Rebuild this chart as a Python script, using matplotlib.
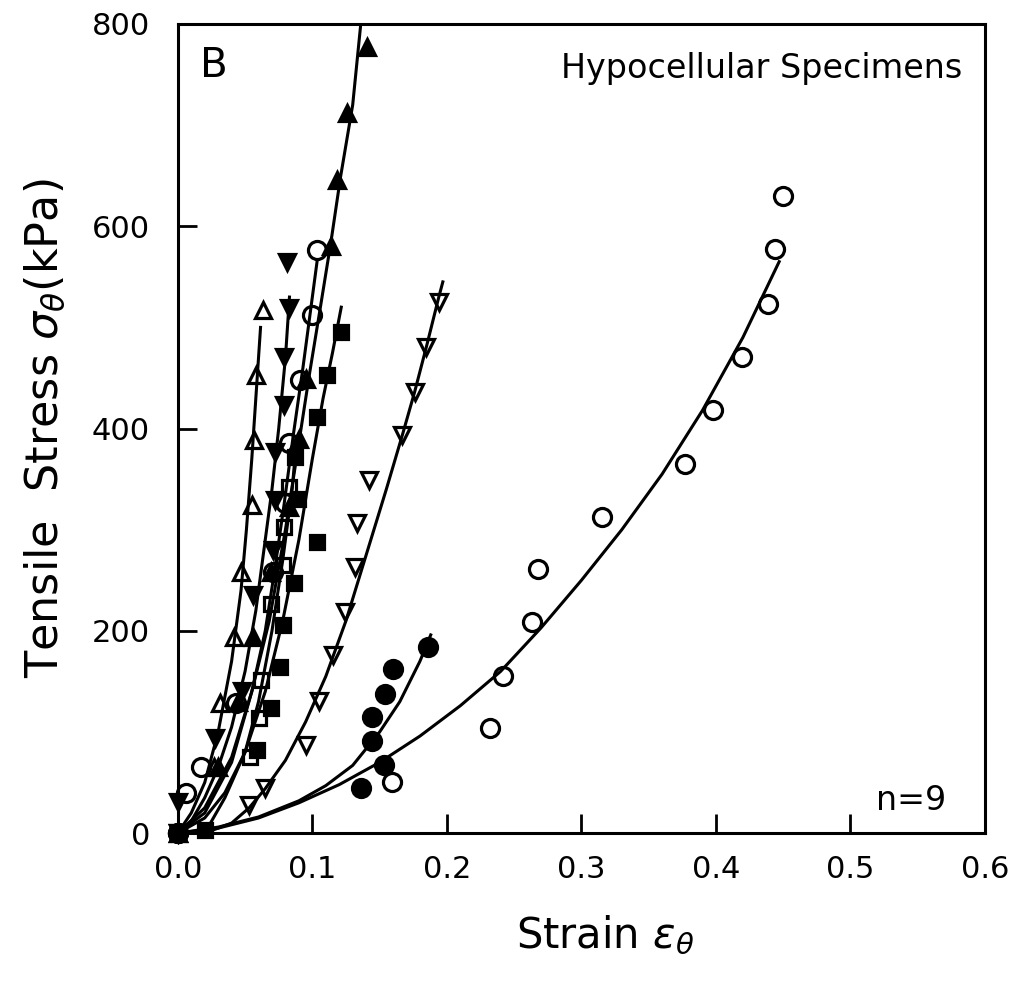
import numpy as np
import matplotlib
matplotlib.use('Agg')
import matplotlib.pyplot as plt

plt.rcParams['font.family'] = ['DejaVu Sans']
plt.rcParams['mathtext.fontset'] = 'dejavusans'

# ---- measured points (strain, stress kPa), one pair of lists per specimen ----

# big open circles (slowest specimen)
oc1_x = [0.0, 0.159, 0.232, 0.242, 0.263, 0.268, 0.315, 0.377, 0.398, 0.419, 0.439, 0.444, 0.450]
oc1_y = [0, 51, 104, 155, 209, 261, 313, 365, 418, 471, 523, 578, 630]
oc1_fx = [0.0, 0.03, 0.06, 0.09, 0.12, 0.15, 0.18, 0.21, 0.24, 0.27, 0.30, 0.33, 0.36, 0.39, 0.42, 0.447]
oc1_fy = [0, 5, 15, 30, 48, 70, 96, 126, 160, 203, 250, 300, 355, 418, 490, 565]

# filled circles
fc_x = [0.0, 0.136, 0.153, 0.144, 0.144, 0.154, 0.160, 0.186]
fc_y = [0, 45, 67, 91, 115, 138, 162, 184]
fc_fx = [0.0, 0.03, 0.06, 0.09, 0.11, 0.13, 0.15, 0.165, 0.18, 0.188]
fc_fy = [0, 6, 16, 32, 47, 67, 100, 130, 170, 196]

# open down triangles
od_x = [0.0, 0.053, 0.065, 0.095, 0.105, 0.115, 0.124, 0.132, 0.133, 0.142, 0.167, 0.176, 0.1845, 0.194]
od_y = [0, 28, 45, 87, 131, 176, 219, 263, 307, 349, 394, 436, 481, 525]
od_fx = [0.02, 0.04, 0.053, 0.065, 0.08, 0.095, 0.11, 0.125, 0.14, 0.155, 0.167, 0.176, 0.185, 0.194, 0.197]
od_fy = [0, 10, 25, 44, 72, 110, 155, 210, 275, 340, 394, 436, 482, 530, 545]

# filled up triangles
fu_x = [0.0, 0.03, 0.045, 0.0556, 0.069, 0.083, 0.090, 0.095, 0.114, 0.1185, 0.126, 0.1407]
fu_y = [0, 65, 130, 194, 258, 322, 390, 449, 580, 646, 712, 777]
fu_fx = [0.0, 0.02, 0.04, 0.055, 0.068, 0.08, 0.09, 0.098, 0.106, 0.114, 0.121, 0.13, 0.136]
fu_fy = [0, 20, 70, 140, 210, 300, 386, 455, 520, 586, 649, 720, 800]

# open up triangles
ou_x = [0.0, 0.027, 0.031, 0.042, 0.047, 0.055, 0.057, 0.058, 0.063]
ou_y = [0, 65, 129, 194, 258, 324, 389, 453, 517]
ou_fx = [0.0, 0.01, 0.02, 0.03, 0.04, 0.047, 0.051, 0.055, 0.0585, 0.0615]
ou_fy = [0, 20, 50, 100, 170, 240, 300, 370, 440, 500]

# filled down triangles
fd_x = [0.0, 0.0, 0.0274, 0.048, 0.0556, 0.0704, 0.0719, 0.0726, 0.079, 0.079, 0.083, 0.0815]
fd_y = [0, 31, 94, 141, 235, 280, 329, 377, 423, 471, 519, 565]
fd_fx = [0.0, 0.01, 0.02, 0.03, 0.04, 0.05, 0.058, 0.065, 0.07, 0.075, 0.08, 0.083]
fd_fy = [0, 12, 35, 65, 105, 160, 220, 290, 340, 400, 470, 530]

# second open circles
oc2_x = [0.0, 0.006, 0.017, 0.043, 0.0704, 0.080, 0.083, 0.091, 0.100, 0.1037]
oc2_y = [0, 40, 65, 129, 258, 326, 386, 448, 512, 577]
oc2_fx = [0.0, 0.02, 0.04, 0.055, 0.065, 0.072, 0.079, 0.086, 0.093, 0.099, 0.1035]
oc2_fy = [0, 25, 75, 140, 200, 260, 325, 395, 460, 520, 565]

# open squares
os_x = [0.0, 0.054, 0.0607, 0.0615, 0.069, 0.078, 0.079, 0.083]
os_y = [0, 75, 114, 151, 227, 265, 303, 342]
os_fx = [0.0, 0.02, 0.035, 0.05, 0.06, 0.07, 0.078, 0.085, 0.088]
os_fy = [0, 15, 40, 80, 130, 200, 270, 340, 385]

# filled squares
fs_x = [0.0, 0.02, 0.059, 0.069, 0.0756, 0.078, 0.0867, 0.1037, 0.089, 0.087, 0.1037, 0.111, 0.121]
fs_y = [0, 3, 82, 124, 164, 206, 247, 288, 330, 372, 411, 453, 495]
fs_fx = [0.02, 0.035, 0.05, 0.065, 0.078, 0.09, 0.1, 0.108, 0.115, 0.1215]
fs_fy = [0, 35, 80, 140, 210, 290, 370, 430, 475, 520]

x_ticks = [0.0, 0.1, 0.2, 0.3, 0.4, 0.5, 0.6]
x_labels = ['0.0', '0.1', '0.2', '0.3', '0.4', '0.5', '0.6']
y_ticks = [0, 200, 400, 600, 800]

# ---------------------------------------------------------------------------

fig = plt.figure(figsize=(10.16, 9.86), dpi=100)
ax = fig.add_axes([0.175, 0.155, 0.7945, 0.8207])

series = [
    (oc1_x, oc1_y, oc1_fx, oc1_fy, 'o', 'none'),
    (fc_x, fc_y, fc_fx, fc_fy, 'o', 'k'),
    (od_x, od_y, od_fx, od_fy, 'v', 'none'),
    (fu_x, fu_y, fu_fx, fu_fy, '^', 'k'),
    (ou_x, ou_y, ou_fx, ou_fy, '^', 'none'),
    (fd_x, fd_y, fd_fx, fd_fy, 'v', 'k'),
    (oc2_x, oc2_y, oc2_fx, oc2_fy, 'o', 'none'),
    (os_x, os_y, os_fx, os_fy, 's', 'none'),
    (fs_x, fs_y, fs_fx, fs_fy, 's', 'k'),
]

for px, py, fx, fy, mk, face in series:
    ax.plot(fx, fy, '-', color='k', lw=2.2)
    ms = {'o': 13, 's': 9.5}.get(mk, 12)
    ax.plot(px, py, ls='none', marker=mk, ms=ms, mfc=face, mec='k', mew=2.3,
            clip_on=False, zorder=3)

ax.set_xlim(0, 0.6)
ax.set_ylim(0, 800)
ax.set_xticks(x_ticks)
ax.set_xticklabels(x_labels)
ax.set_yticks(y_ticks)

ax.tick_params(direction='in', length=14, width=2, labelsize=22)
ax.tick_params(axis='x', pad=16)
ax.tick_params(axis='y', pad=20)
for s in ax.spines.values():
    s.set_linewidth(2.2)

ax.set_xlabel(r'Strain $\epsilon_\theta$', fontsize=30)
ax.xaxis.set_label_coords(0.53, -0.1)
ax.set_ylabel(r'Tensile  Stress $\sigma_\theta$(kPa)', fontsize=32, labelpad=18)

ax.text(0.027, 0.948, 'B', transform=ax.transAxes, fontsize=29, va='center', ha='left')
ax.text(0.972, 0.945, 'Hypocellular Specimens', transform=ax.transAxes, fontsize=24,
        va='center', ha='right')
ax.text(0.952, 0.04, 'n=9', transform=ax.transAxes, fontsize=24, va='center', ha='right')

fig.savefig('out.png', dpi=100)
